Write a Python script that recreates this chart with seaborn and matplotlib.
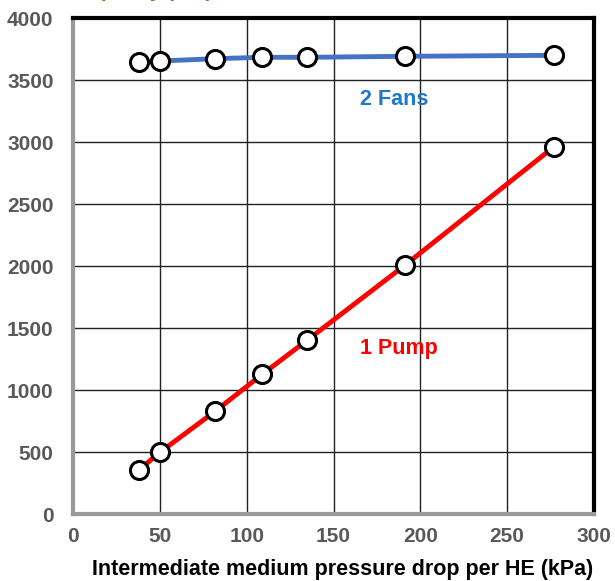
import matplotlib
matplotlib.use("Agg")
import matplotlib.pyplot as plt
import seaborn as sns
import pandas as pd

pressure_drop = [38, 50, 82, 109, 135, 191, 277]
fans_power = [3643, 3653, 3672, 3683, 3683, 3691, 3699]
pump_power = [355, 497, 830, 1127, 1403, 2005, 2962]
x_ticks = [0, 50, 100, 150, 200, 250, 300]
y_ticks = [0, 500, 1000, 1500, 2000, 2500, 3000, 3500, 4000]

sns.set_theme(style="white")
plt.rcParams['font.family'] = ['Liberation Sans', 'DejaVu Sans']

df = pd.DataFrame({"x": pressure_drop, "fans": fans_power, "pump": pump_power})

fig = plt.figure(figsize=(6.15, 5.81), dpi=100)
ax = fig.add_axes([73/615, 67/581, 521/615, 496/581])

sns.lineplot(data=df, x="x", y="fans", ax=ax, color="#4472C4", linewidth=3.5,
             marker="o", markersize=13, markerfacecolor="white",
             markeredgecolor="black", markeredgewidth=2.2, zorder=3)
sns.lineplot(data=df, x="x", y="pump", ax=ax, color="#FF0000", linewidth=3.5,
             marker="o", markersize=13, markerfacecolor="white",
             markeredgecolor="black", markeredgewidth=2.2, zorder=3)

ax.set_xlim(0, 300)
ax.set_ylim(0, 4000)
ax.set_xticks(x_ticks)
ax.set_yticks(y_ticks)
ax.grid(True, color="#222222", linewidth=1.0)
ax.set_axisbelow(True)
for lab in ax.get_xticklabels() + ax.get_yticklabels():
    lab.set_fontweight("bold")
    lab.set_color("#595959")
    lab.set_fontsize(15)
ax.tick_params(axis="y", length=0, pad=14)
ax.tick_params(axis="x", length=0, pad=9)

ax.set_xlabel("Intermediate medium pressure drop per HE (kPa)", fontsize=15.5,
              fontweight="bold", color="black")
ax.set_ylabel("")
ax.xaxis.set_label_coords(0.517, -0.09)

for side in ["top", "right"]:
    ax.spines[side].set_color("black")
    ax.spines[side].set_linewidth(3)
for side in ["left", "bottom"]:
    ax.spines[side].set_color("#999999")
    ax.spines[side].set_linewidth(3)

ax.text(165, 3339, "2 Fans", color="#1F77C8", fontsize=15.5, fontweight="bold", va="center")
ax.text(165, 1331, "1 Pump", color="#FF0000", fontsize=15.5, fontweight="bold", va="center")

fig.text(0.12, 1 + 3/581, "Capacity (kW)", fontsize=15, fontweight="bold",
         color="#C55A11", va="baseline", ha="left")

fig.savefig("out.png", dpi=100)
